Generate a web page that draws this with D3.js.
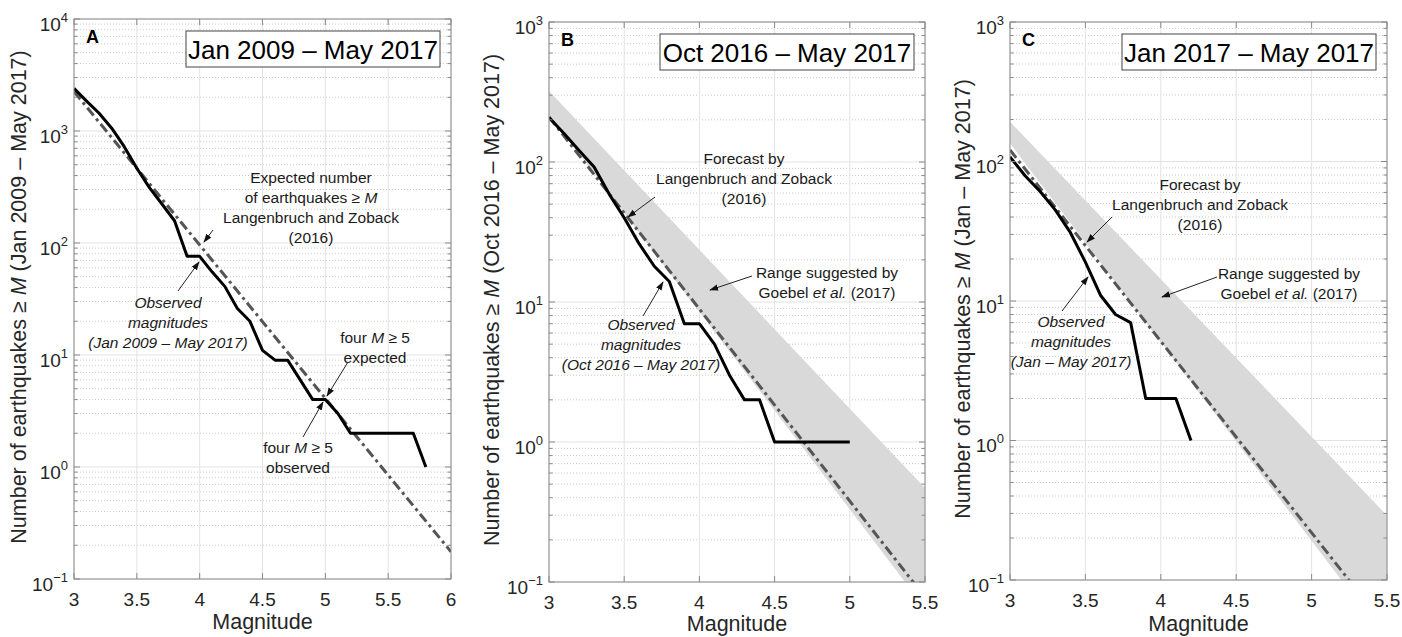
<!DOCTYPE html>
<html>
<head>
<meta charset="utf-8">
<script src="https://cdn.jsdelivr.net/npm/d3@7"></script>
<style>
  body { margin: 0; background: #fff; }
  svg { font-family: "Liberation Sans", Arial, Helvetica, sans-serif; }
</style>
</head>
<body>
<div id="vis"></div>
<script>
// ---- data ----
const magsA = [3.0, 3.1, 3.2, 3.3, 3.4, 3.5, 3.6, 3.7, 3.8, 3.9, 4.0, 4.1, 4.2, 4.3, 4.4,
               4.5, 4.6, 4.7, 4.8, 4.9, 5.0, 5.1, 5.2, 5.3, 5.4, 5.5, 5.6, 5.7, 5.8];
const obsA = [2400, 1850, 1440, 1060, 725, 465, 312, 223, 158, 76, 76, 55, 41, 26, 20,
              11, 9, 9, 6, 4, 4, 3, 2, 2, 2, 2, 2, 2, 1];
const expMagsA = [3, 6];
const expA = [2250, 0.175];

const magsB = [3.0, 3.1, 3.2, 3.3, 3.4, 3.5, 3.6, 3.7, 3.8, 3.9, 4.0,
               4.1, 4.2, 4.3, 4.4, 4.5, 4.6, 4.7, 4.8, 4.9, 5.0];
const obsB = [208, 160, 121, 92, 59, 40, 26, 18, 14, 7, 7, 5, 3, 2, 2, 1, 1, 1, 1, 1, 1];
const expMagsB = [3, 5.5];
const expB = [210, 0.078];
const bandMagsB = [3, 5.5];
const bandUpperB = [321, 0.47];
const bandLowerB = [219, 0.065];

const magsC = [3.0, 3.1, 3.2, 3.3, 3.4, 3.5, 3.6, 3.7, 3.8, 3.9, 4.0, 4.1, 4.2];
const obsC = [108, 79, 61, 45, 31, 19, 11, 8, 7, 2, 2, 2, 1];
const expMagsC = [3, 5.5];
const expC = [121, 0.045];
const bandMagsC = [3, 5.5];
const bandUpperC = [193, 0.29];
const bandLowerC = [135, 0.037];

const xTicksA = [3, 3.5, 4, 4.5, 5, 5.5, 6];
const xTicksBC = [3, 3.5, 4, 4.5, 5, 5.5];
const xTickLabelsA = ["3", "3.5", "4", "4.5", "5", "5.5", "6"];
const xTickLabelsBC = ["3", "3.5", "4", "4.5", "5", "5.5"];
const decadesA = [-1, 0, 1, 2, 3, 4];
const decadesBC = [-1, 0, 1, 2, 3];

// ---- layout ----
const W = 1402, H = 637;
const svg = d3.select("#vis").append("svg")
    .attr("width", W).attr("height", H);

const defs = svg.append("defs");
defs.append("marker")
    .attr("id", "arrow")
    .attr("viewBox", "0 0 10 10")
    .attr("refX", 9).attr("refY", 5)
    .attr("markerWidth", 9).attr("markerHeight", 9)
    .attr("markerUnits", "userSpaceOnUse")
    .attr("orient", "auto")
  .append("path")
    .attr("d", "M0,1.5 L10,5 L0,8.5 Z")
    .attr("fill", "#111");

const panels = [
  {
    key: "A", mags: magsA, obs: obsA, expMags: expMagsA, exp: expA,
    xTicks: xTicksA, xLabels: xTickLabelsA, decades: decadesA,
    box: { left: 74, right: 451, top: 19, bottom: 579 },
    period: "Jan 2009 – May 2017", yPeriod: "(Jan 2009 – May 2017)",
    yLabelX: 26, magBaseline: 629,
    notes: [
      { lines: [["Expected number"], ["of earthquakes ≥ ", ["M", true]], ["Langenbruch and Zoback"], ["(2016)"]],
        x: 311, y: 177, italic: false, arrow: [213, 230, 204, 242] },
      { lines: [["Observed"], ["magnitudes"], ["(Jan 2009 – May 2017)"]],
        x: 168, y: 302, italic: true, arrow: [178, 291, 199, 262] },
      { lines: [["four ", ["M", true], " ≥ 5"], ["expected"]],
        x: 375, y: 337, italic: false, arrow: [348, 362, 327, 396] },
      { lines: [["four ", ["M", true], " ≥ 5"], ["observed"]],
        x: 298, y: 447, italic: false, arrow: [303, 437, 323, 402] }
    ]
  },
  {
    key: "B", mags: magsB, obs: obsB, expMags: expMagsB, exp: expB,
    bandMags: bandMagsB, bandUpper: bandUpperB, bandLower: bandLowerB,
    xTicks: xTicksBC, xLabels: xTickLabelsBC, decades: decadesBC,
    box: { left: 549, right: 925, top: 22, bottom: 582 },
    period: "Oct 2016 – May 2017", yPeriod: "(Oct 2016 – May 2017)",
    yLabelX: 499, magBaseline: 631,
    notes: [
      { lines: [["Forecast by"], ["Langenbruch and Zoback"], ["(2016)"]],
        x: 744, y: 158, italic: false, arrow: [655, 197, 628, 217] },
      { lines: [["Range suggested by"], ["Goebel ", ["et al.", true], " (2017)"]],
        x: 827, y: 272, italic: false, arrow: [752, 276, 710, 290] },
      { lines: [["Observed"], ["magnitudes"], ["(Oct 2016 – May 2017)"]],
        x: 641, y: 324, italic: true, arrow: [643, 316, 663, 282] }
    ]
  },
  {
    key: "C", mags: magsC, obs: obsC, expMags: expMagsC, exp: expC,
    bandMags: bandMagsC, bandUpper: bandUpperC, bandLower: bandLowerC,
    xTicks: xTicksBC, xLabels: xTickLabelsBC, decades: decadesBC,
    box: { left: 1010, right: 1387, top: 22, bottom: 580 },
    period: "Jan 2017 – May 2017", yPeriod: "(Jan – May 2017)",
    yLabelX: 970, magBaseline: 631,
    notes: [
      { lines: [["Forecast by"], ["Langenbruch and Zoback"], ["(2016)"]],
        x: 1200, y: 184, italic: false, arrow: [1112, 217, 1087, 242] },
      { lines: [["Range suggested by"], ["Goebel ", ["et al.", true], " (2017)"]],
        x: 1289, y: 273, italic: false, arrow: [1217, 277, 1162, 297] },
      { lines: [["Observed"], ["magnitudes"], ["(Jan – May 2017)"]],
        x: 1071, y: 321, italic: true, arrow: [1062, 311, 1088, 277] }
    ]
  }
];

panels.forEach(drawPanel);

function drawPanel(p) {
  const b = p.box;
  const xMax = p.xTicks[p.xTicks.length - 1];
  const dMin = p.decades[0], dMax = p.decades[p.decades.length - 1];

  const x = d3.scaleLinear().domain([3, xMax]).range([b.left, b.right]);
  const y = d3.scaleLog().domain([10 ** dMin, 10 ** dMax]).range([b.bottom, b.top]);

  const g = svg.append("g");
  const clipId = "clip" + p.key;
  defs.append("clipPath").attr("id", clipId)
    .append("rect")
      .attr("x", b.left).attr("y", b.top)
      .attr("width", b.right - b.left).attr("height", b.bottom - b.top);

  // minor values inside each decade
  const minors = [];
  for (let d = dMin; d < dMax; d++) {
    for (let k = 2; k <= 9; k++) minors.push(k * 10 ** d);
  }
  const majors = p.decades.map(d => 10 ** d);

  // grid
  g.append("g").selectAll("line").data(minors).join("line")
      .attr("x1", b.left).attr("x2", b.right)
      .attr("y1", d => y(d)).attr("y2", d => y(d))
      .attr("stroke", "#c8c8c8").attr("stroke-width", 1)
      .attr("stroke-dasharray", "1,2");
  g.append("g").selectAll("line").data(majors).join("line")
      .attr("x1", b.left).attr("x2", b.right)
      .attr("y1", d => y(d)).attr("y2", d => y(d))
      .attr("stroke", "#e3e3e3").attr("stroke-width", 1);
  g.append("g").selectAll("line").data(p.xTicks).join("line")
      .attr("x1", d => x(d)).attr("x2", d => x(d))
      .attr("y1", b.top).attr("y2", b.bottom)
      .attr("stroke", "#e3e3e3").attr("stroke-width", 1);

  const plot = g.append("g").attr("clip-path", `url(#${clipId})`);

  // gray range band
  if (p.bandMags) {
    const bandData = p.bandMags.map((m, i) => ({ m, lo: p.bandLower[i], hi: p.bandUpper[i] }));
    plot.append("path")
        .datum(bandData)
        .attr("fill", "#d9d9d9")
        .attr("d", d3.area().x(d => x(d.m)).y0(d => y(d.lo)).y1(d => y(d.hi)));
  }

  // expected (dash-dot)
  const expData = p.expMags.map((m, i) => ({ m, v: p.exp[i] }));
  plot.append("path")
      .datum(expData)
      .attr("fill", "none")
      .attr("stroke", "#555")
      .attr("stroke-width", 3)
      .attr("stroke-dasharray", "10,4,3,4")
      .attr("d", d3.line().x(d => x(d.m)).y(d => y(d.v)));

  // observed
  const obsData = p.mags.map((m, i) => ({ m, v: p.obs[i] }));
  plot.append("path")
      .datum(obsData)
      .attr("fill", "none")
      .attr("stroke", "#000")
      .attr("stroke-width", 3)
      .attr("stroke-linejoin", "round")
      .attr("d", d3.line().x(d => x(d.m)).y(d => y(d.v)));

  // axes box + inward ticks
  const axisColor = "#8a8a8a";
  const ax = g.append("g").attr("stroke", axisColor).attr("stroke-width", 1);
  ax.append("rect")
      .attr("x", b.left).attr("y", b.top)
      .attr("width", b.right - b.left).attr("height", b.bottom - b.top)
      .attr("fill", "none");
  p.xTicks.forEach(t => {
    ax.append("line").attr("x1", x(t)).attr("x2", x(t)).attr("y1", b.bottom).attr("y2", b.bottom - 6);
    ax.append("line").attr("x1", x(t)).attr("x2", x(t)).attr("y1", b.top).attr("y2", b.top + 6);
  });
  majors.forEach(v => {
    ax.append("line").attr("x1", b.left).attr("x2", b.left + 6).attr("y1", y(v)).attr("y2", y(v));
    ax.append("line").attr("x1", b.right).attr("x2", b.right - 6).attr("y1", y(v)).attr("y2", y(v));
  });
  minors.forEach(v => {
    ax.append("line").attr("x1", b.left).attr("x2", b.left + 3.5).attr("y1", y(v)).attr("y2", y(v));
    ax.append("line").attr("x1", b.right).attr("x2", b.right - 3.5).attr("y1", y(v)).attr("y2", y(v));
  });

  // tick labels
  g.append("g").selectAll("text").data(p.xTicks).join("text")
      .attr("x", d => x(d)).attr("y", b.bottom + 27)
      .attr("text-anchor", "middle")
      .attr("font-size", 19).attr("fill", "#262626")
      .text((d, i) => p.xLabels[i]);

  p.decades.forEach(d => {
    const t = g.append("text")
        .attr("x", b.left - 6).attr("y", y(10 ** d) + 11.5)
        .attr("text-anchor", "end")
        .attr("font-size", 19).attr("fill", "#262626");
    t.append("tspan").text("10");
    t.append("tspan").attr("font-size", 13).attr("dy", -9)
        .text(d < 0 ? "\u2212" + (-d) : String(d));
  });

  // axis titles
  g.append("text")
      .attr("x", (b.left + b.right) / 2).attr("y", p.magBaseline)
      .attr("text-anchor", "middle")
      .attr("font-size", 21.5).attr("fill", "#262626")
      .text("Magnitude");

  const yl = g.append("text")
      .attr("transform", `translate(${p.yLabelX},${(b.top + b.bottom) / 2 - 2}) rotate(-90)`)
      .attr("text-anchor", "middle")
      .attr("font-size", 21.5).attr("fill", "#262626");
  yl.append("tspan").text("Number of earthquakes ≥ ");
  yl.append("tspan").attr("font-style", "italic").text("M");
  yl.append("tspan").text(" " + p.yPeriod);

  // panel letter
  g.append("text")
      .attr("x", b.left + 12).attr("y", b.top + 24)
      .attr("font-size", 18).attr("font-weight", "bold").attr("fill", "#000")
      .text(p.key);

  // period box
  const bw = 254, bh = 36;
  const bx = b.right - 11 - bw, by = b.top + 12;
  g.append("rect")
      .attr("x", bx).attr("y", by).attr("width", bw).attr("height", bh)
      .attr("fill", "#fff").attr("stroke", "#444").attr("stroke-width", 1);
  g.append("text")
      .attr("x", bx + bw / 2).attr("y", by + 28)
      .attr("text-anchor", "middle")
      .attr("font-size", 26).attr("fill", "#000")
      .text(p.period);

  // annotations
  p.notes.forEach(n => {
    const nt = g.append("g")
        .attr("font-size", 15.5).attr("fill", "#1a1a1a")
        .attr("text-anchor", "middle")
        .attr("font-style", n.italic ? "italic" : "normal");
    n.lines.forEach((parts, i) => {
      const t = nt.append("text").attr("x", n.x).attr("y", n.y + 5.5 + i * 20);
      parts.forEach(part => {
        if (Array.isArray(part)) t.append("tspan").attr("font-style", "italic").text(part[0]);
        else t.append("tspan").text(part);
      });
    });
    const a = n.arrow;
    g.append("line")
        .attr("x1", a[0]).attr("y1", a[1]).attr("x2", a[2]).attr("y2", a[3])
        .attr("stroke", "#222").attr("stroke-width", 1)
        .attr("marker-end", "url(#arrow)");
  });
}
</script>
</body>
</html>
